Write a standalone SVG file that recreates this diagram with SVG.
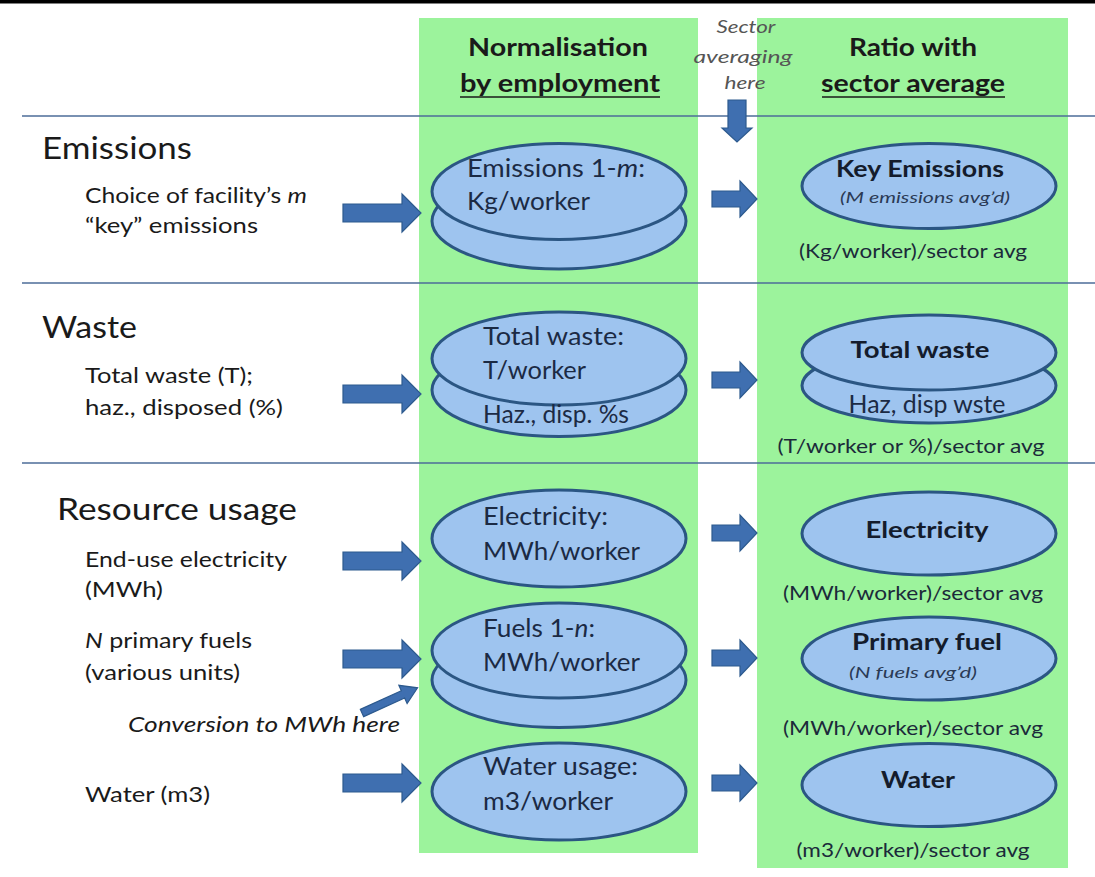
<svg xmlns="http://www.w3.org/2000/svg" width="1095" height="877" viewBox="0 0 1095 877">
<style>
  text { font-family: Lato, "Liberation Sans", sans-serif; fill: #1a1a1a; }
  .col { fill: #9cf39c; }
  .sep { stroke: #4c6d98; stroke-width: 1.6; }
  .ell { fill: #9ec4ef; stroke: #2b5683; stroke-width: 3; }
  .arr { fill: #3f6fb0; stroke: #2d5a8e; stroke-width: 1.2; }
  .hdr { font-weight: bold; font-size: 25px; text-anchor: middle; }
  .sec { font-size: 31px; }
  .lbl { font-size: 21px; }
  .et { font-size: 25px; fill: #1b2a44; }
  .kt { font-size: 23px; font-weight: bold; text-anchor: middle; fill: #141c2c; }
  .sub { font-size: 16px; font-style: italic; text-anchor: middle; fill: #2a3a55; }
  .rat { font-size: 19px; text-anchor: middle; fill: #1b2a3a; }
  .note { font-size: 18px; font-style: italic; fill: #555; }
</style>
<rect x="0" y="0" width="1095" height="877" fill="#ffffff"/>
<rect x="0" y="0" width="1095" height="3.5" fill="#000"/>

<g id="columns">
  <rect class="col" x="419" y="18" width="279" height="835"/>
  <rect class="col" x="757" y="18" width="311" height="850"/>
</g>

<g id="separators">
  <line class="sep" x1="22" y1="116" x2="1095" y2="116"/>
  <line class="sep" x1="22" y1="283" x2="1095" y2="283"/>
  <line class="sep" x1="22" y1="463" x2="1095" y2="463"/>
</g>

<g id="headers">
  <text class="hdr" x="558" y="56" textLength="180" lengthAdjust="spacingAndGlyphs">Normalisation</text>
  <text class="hdr" x="560" y="92" textLength="200" lengthAdjust="spacingAndGlyphs">by employment</text>
  <line x1="460" y1="97" x2="660" y2="97" stroke="#1a1a1a" stroke-width="1.6"/>
  <text class="hdr" x="913" y="56" textLength="128" lengthAdjust="spacingAndGlyphs">Ratio with</text>
  <text class="hdr" x="913" y="92" textLength="184" lengthAdjust="spacingAndGlyphs">sector average</text>
  <line x1="822" y1="97" x2="1005" y2="97" stroke="#1a1a1a" stroke-width="1.6"/>
  <text class="note" x="746" y="33" text-anchor="middle" textLength="59" lengthAdjust="spacingAndGlyphs">Sector</text>
  <text class="note" x="743" y="63" text-anchor="middle" textLength="99" lengthAdjust="spacingAndGlyphs">averaging</text>
  <text class="note" x="745" y="89" text-anchor="middle" textLength="41" lengthAdjust="spacingAndGlyphs">here</text>
</g>

<g id="left-labels">
  <text class="sec" x="42" y="159" textLength="150" lengthAdjust="spacingAndGlyphs">Emissions</text>
  <text class="lbl" x="85" y="203" textLength="222" lengthAdjust="spacingAndGlyphs">Choice of facility’s <tspan font-style="italic">m</tspan></text>
  <text class="lbl" x="85" y="233" textLength="173" lengthAdjust="spacingAndGlyphs">“key” emissions</text>
  <text class="sec" x="42" y="338" textLength="95" lengthAdjust="spacingAndGlyphs">Waste</text>
  <text class="lbl" x="85" y="383" textLength="168" lengthAdjust="spacingAndGlyphs">Total waste (T);</text>
  <text class="lbl" x="85" y="415" textLength="198" lengthAdjust="spacingAndGlyphs">haz., disposed (%)</text>
  <text class="sec" x="57" y="520" textLength="240" lengthAdjust="spacingAndGlyphs">Resource usage</text>
  <text class="lbl" x="85" y="567" textLength="202" lengthAdjust="spacingAndGlyphs">End-use electricity</text>
  <text class="lbl" x="85" y="597" textLength="78" lengthAdjust="spacingAndGlyphs">(MWh)</text>
  <text class="lbl" x="85" y="648" textLength="167" lengthAdjust="spacingAndGlyphs"><tspan font-style="italic">N</tspan> primary fuels</text>
  <text class="lbl" x="85" y="680" textLength="155" lengthAdjust="spacingAndGlyphs">(various units)</text>
  <text class="lbl" x="128" y="732" font-style="italic" fill="#333" textLength="272" lengthAdjust="spacingAndGlyphs">Conversion to MWh here</text>
  <text class="lbl" x="85" y="802" textLength="125" lengthAdjust="spacingAndGlyphs">Water (m3)</text>
</g>

<g id="node-emissions-norm">
  <ellipse class="ell" cx="559" cy="221" rx="127" ry="48"/>
  <ellipse class="ell" cx="559" cy="191.5" rx="127" ry="48"/>
  <text class="et" x="467" y="177" textLength="178" lengthAdjust="spacingAndGlyphs">Emissions 1-<tspan font-style="italic">m</tspan>:</text>
  <text class="et" x="467" y="210" textLength="123" lengthAdjust="spacingAndGlyphs">Kg/worker</text>
</g>

<g id="node-waste-norm">
  <ellipse class="ell" cx="559" cy="390" rx="127" ry="46.5"/>
  <ellipse class="ell" cx="559" cy="358.5" rx="127" ry="46.5"/>
  <text class="et" x="483" y="345" textLength="141" lengthAdjust="spacingAndGlyphs">Total waste:</text>
  <text class="et" x="483" y="379" textLength="103" lengthAdjust="spacingAndGlyphs">T/worker</text>
  <text class="et" x="483" y="423" textLength="146" lengthAdjust="spacingAndGlyphs">Haz., disp. %s</text>
</g>

<g id="node-electricity-norm">
  <ellipse class="ell" cx="559" cy="538.5" rx="127" ry="48.5"/>
  <text class="et" x="483" y="525" textLength="125" lengthAdjust="spacingAndGlyphs">Electricity:</text>
  <text class="et" x="483" y="560" textLength="157" lengthAdjust="spacingAndGlyphs">MWh/worker</text>
</g>

<g id="node-fuels-norm">
  <ellipse class="ell" cx="559" cy="680" rx="127" ry="47.5"/>
  <ellipse class="ell" cx="559" cy="650.5" rx="127" ry="47.5"/>
  <text class="et" x="483" y="637" textLength="112" lengthAdjust="spacingAndGlyphs">Fuels 1-<tspan font-style="italic">n</tspan>:</text>
  <text class="et" x="483" y="671" textLength="157" lengthAdjust="spacingAndGlyphs">MWh/worker</text>
</g>

<g id="node-water-norm">
  <ellipse class="ell" cx="559" cy="791.5" rx="127" ry="48.5"/>
  <text class="et" x="483" y="775" textLength="155" lengthAdjust="spacingAndGlyphs">Water usage:</text>
  <text class="et" x="483" y="810" textLength="130" lengthAdjust="spacingAndGlyphs">m3/worker</text>
</g>

<g id="node-emissions-ratio">
  <ellipse class="ell" cx="929" cy="186" rx="127" ry="42.5"/>
  <text class="kt" x="920" y="177" textLength="168" lengthAdjust="spacingAndGlyphs">Key Emissions</text>
  <text class="sub" x="925" y="203" textLength="170" lengthAdjust="spacingAndGlyphs">(<tspan font-style="italic">M</tspan> emissions avg’d)</text>
  <text class="rat" x="913" y="258" textLength="228" lengthAdjust="spacingAndGlyphs">(Kg/worker)/sector avg</text>
</g>

<g id="node-waste-ratio">
  <ellipse class="ell" cx="929" cy="385.5" rx="127" ry="37.5"/>
  <ellipse class="ell" cx="929" cy="352.5" rx="127" ry="37.5"/>
  <text class="kt" x="920" y="358" textLength="139" lengthAdjust="spacingAndGlyphs">Total waste</text>
  <text class="et" x="927" y="413" text-anchor="middle" font-size="23" textLength="157" lengthAdjust="spacingAndGlyphs">Haz, disp wste</text>
  <text class="rat" x="911" y="453" textLength="267" lengthAdjust="spacingAndGlyphs">(T/worker or %)/sector avg</text>
</g>

<g id="node-electricity-ratio">
  <ellipse class="ell" cx="929" cy="533.5" rx="127" ry="41.5"/>
  <text class="kt" x="927" y="538" textLength="123" lengthAdjust="spacingAndGlyphs">Electricity</text>
  <text class="rat" x="913" y="600" textLength="260" lengthAdjust="spacingAndGlyphs">(MWh/worker)/sector avg</text>
</g>

<g id="node-fuel-ratio">
  <ellipse class="ell" cx="929" cy="658.5" rx="127" ry="41.5"/>
  <text class="kt" x="927" y="650" textLength="150" lengthAdjust="spacingAndGlyphs">Primary fuel</text>
  <text class="sub" x="913" y="678" textLength="128" lengthAdjust="spacingAndGlyphs">(<tspan font-style="italic">N</tspan> fuels avg’d)</text>
  <text class="rat" x="913" y="735" textLength="260" lengthAdjust="spacingAndGlyphs">(MWh/worker)/sector avg</text>
</g>

<g id="node-water-ratio">
  <ellipse class="ell" cx="929" cy="785" rx="127" ry="41.5"/>
  <text class="kt" x="918" y="788" textLength="74" lengthAdjust="spacingAndGlyphs">Water</text>
  <text class="rat" x="913" y="857" textLength="233" lengthAdjust="spacingAndGlyphs">(m3/worker)/sector avg</text>
</g>

<g id="connectors">
  <polygon class="arr" points="343,204 402,204 402,194 421,213 402,232 402,222 343,222"/>
  <polygon class="arr" points="343,385 402,385 402,375 421,394 402,413 402,403 343,403"/>
  <polygon class="arr" points="343,552 402,552 402,542 421,561 402,580 402,570 343,570"/>
  <polygon class="arr" points="343,650 402,650 402,640 421,659 402,678 402,668 343,668"/>
  <polygon class="arr" points="343,774 402,774 402,764 421,783 402,802 402,792 343,792"/>
  <polygon class="arr" points="0,-4 45,-4 45,-10 61,0 45,10 45,4 0,4" transform="translate(362,713) rotate(-24.4)"/>
  <polygon class="arr" points="712,191 740,191 740,181 757,199 740,217 740,207 712,207"/>
  <polygon class="arr" points="712,372 740,372 740,362 757,380 740,398 740,388 712,388"/>
  <polygon class="arr" points="712,525 740,525 740,515 757,533 740,551 740,541 712,541"/>
  <polygon class="arr" points="712,650 740,650 740,640 757,658 740,676 740,666 712,666"/>
  <polygon class="arr" points="712,775 740,775 740,765 757,783 740,801 740,791 712,791"/>
  <polygon class="arr" points="728,100 746,100 746,128 752,128 737,142 722,128 728,128"/>
</g>
</svg>
